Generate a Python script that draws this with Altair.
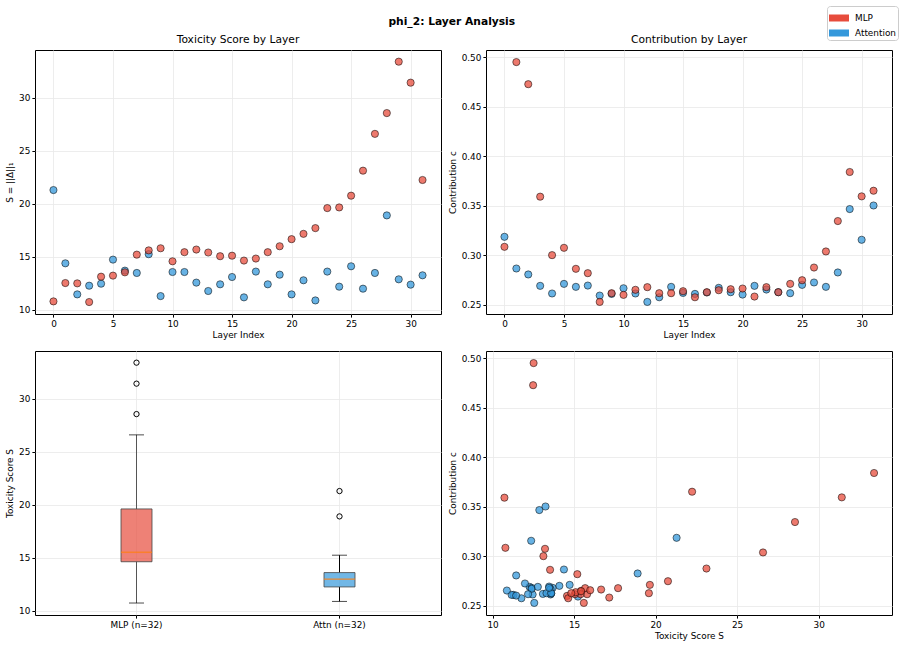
import altair as alt
import pandas as pd
import numpy as np

layers = list(range(32))
mlp_S = [10.79, 12.52, 12.49, 10.73, 13.12, 13.22, 13.53, 15.20, 15.60, 15.80,
         14.57, 15.43, 15.68, 15.40, 15.05, 15.10, 14.64, 14.83, 15.43, 15.99,
         16.66, 17.16, 17.70, 19.59, 19.65, 20.76, 23.12, 26.59, 28.55, 33.40,
         31.42, 22.24]
attn_S = [21.29, 14.38, 11.45, 12.27, 12.46, 14.73, 13.69, 13.47, 15.24, 11.29,
          13.56, 13.56, 12.56, 11.77, 12.40, 13.09, 11.17, 13.60, 12.40, 13.31,
          11.45, 12.78, 10.88, 13.60, 12.18, 14.10, 11.99, 13.47, 18.90, 12.87,
          12.37, 13.25]
mlp_c = [0.3086, 0.4950, 0.4727, 0.3592, 0.3002, 0.3076, 0.2864, 0.2820, 0.2530, 0.2618,
         0.2601, 0.2652, 0.2679, 0.2618, 0.2618, 0.2638, 0.2577, 0.2628, 0.2648, 0.2658,
         0.2665, 0.2584, 0.2679, 0.2628, 0.2712, 0.2749, 0.2877, 0.3039, 0.3346, 0.3841,
         0.3595, 0.3652]
attn_c = [0.3187, 0.2867, 0.2807, 0.2692, 0.2615, 0.2712, 0.2682, 0.2695, 0.2594, 0.2611,
          0.2668, 0.2615, 0.2530, 0.2577, 0.2682, 0.2621, 0.2611, 0.2625, 0.2672, 0.2628,
          0.2604, 0.2692, 0.2655, 0.2628, 0.2618, 0.2702, 0.2726, 0.2682, 0.2827, 0.3467,
          0.3157, 0.3503]

components = ["MLP", "Attention"]
colors = ["#e74c3c", "#3498db"]
box_labels = ["MLP (n=32)", "Attn (n=32)"]
whisker_colors = ["#555555", "black"]

FONT = "DejaVu Sans"
W, H = 406, 264

# scatter data (attention first so MLP draws on top)
df = pd.DataFrame({
    "layer": layers + layers,
    "S": attn_S + mlp_S,
    "c": attn_c + mlp_c,
    "comp": ["Attention"] * 32 + ["MLP"] * 32,
})

color_scale = alt.Scale(domain=components, range=colors)
legend = alt.Legend(
    title=None, orient="none", legendX=792, legendY=-44,
    symbolType="M-1,-0.35L1,-0.35L1,0.35L-1,0.35Z", symbolSize=400,
    symbolOpacity=1, symbolStrokeWidth=0,
    labelFont=FONT, labelFontSize=8.9, labelColor="black",
    fillColor="white", strokeColor="#cccccc", cornerRadius=3,
    padding=2, rowPadding=0, symbolOffset=0, labelOffset=6,
)

S_scale = alt.Scale(domain=[9.6, 34.5], nice=False, zero=False)
c_scale = alt.Scale(domain=[0.2408, 0.5072], nice=False, zero=False)
L_scale = alt.Scale(domain=[-1.55, 32.55], nice=False, zero=False)

S_ticks = [10, 15, 20, 25, 30]
c_ticks = [0.25, 0.30, 0.35, 0.40, 0.45, 0.50]
L_ticks = [0, 5, 10, 15, 20, 25, 30]


def pts(xfield, yfield, xs, ys, xtitle, ytitle, xvals, yvals, yfmt, title, leg):
    return alt.Chart(df).mark_circle(
        size=52, opacity=1, fillOpacity=0.75, stroke="black",
        strokeWidth=0.7, strokeOpacity=0.75
    ).encode(
        x=alt.X(f"{xfield}:Q", scale=xs, axis=alt.Axis(values=xvals, title=xtitle)),
        y=alt.Y(f"{yfield}:Q", scale=ys, axis=alt.Axis(values=yvals, title=ytitle, format=yfmt)),
        color=alt.Color("comp:N", scale=color_scale, legend=leg),
    ).properties(width=W, height=H, title=title)


p1 = pts("layer", "S", L_scale, S_scale, "Layer Index", "S = ||Δ||₁",
         L_ticks, S_ticks, "d", "Toxicity Score by Layer", legend)
p2 = pts("layer", "c", L_scale, c_scale, "Layer Index", "Contribution c",
         L_ticks, c_ticks, ".2f", "Contribution by Layer", None)
p4 = pts("S", "c", S_scale, c_scale, "Toxicity Score S", "Contribution c",
         S_ticks, c_ticks, ".2f", "", None)

# box plot statistics (matplotlib style, whis=1.5)
rows, outs = [], []
for lab, comp, vals, wc in zip(box_labels, components, [mlp_S, attn_S], whisker_colors):
    a = np.array(vals)
    q1, med, q3 = np.percentile(a, [25, 50, 75])
    iqr = q3 - q1
    lo_f, hi_f = q1 - 1.5 * iqr, q3 + 1.5 * iqr
    lo = a[a >= lo_f].min()
    hi = a[a <= hi_f].max()
    rows.append(dict(label=lab, comp=comp, q1=q1, med=med, q3=q3, lo=lo, hi=hi, wc=wc))
    for v in a[(a < lo_f) | (a > hi_f)]:
        outs.append(dict(label=lab, v=float(v)))
box_df = pd.DataFrame(rows)
out_df = pd.DataFrame(outs)

bx = alt.X("label:N", scale=alt.Scale(domain=box_labels, paddingInner=0.5, paddingOuter=0.25),
           axis=alt.Axis(title=None, labelAngle=0, grid=True))
by_axis = alt.Axis(values=S_ticks, title="Toxicity Score S")

base = alt.Chart(box_df)
wh_lo = base.mark_rule(strokeWidth=1).encode(
    x=bx, y=alt.Y("lo:Q", scale=S_scale, axis=by_axis), y2="q1:Q",
    color=alt.Color("wc:N", scale=None))
wh_hi = base.mark_rule(strokeWidth=1).encode(
    x=bx, y=alt.Y("q3:Q", scale=S_scale, axis=by_axis), y2="hi:Q",
    color=alt.Color("wc:N", scale=None))
box = base.mark_bar(size=31, fillOpacity=0.7, stroke="#444444", strokeWidth=1,
                    strokeOpacity=0.8).encode(
    x=bx, y=alt.Y("q1:Q", scale=S_scale, axis=by_axis), y2="q3:Q",
    color=alt.Color("comp:N", scale=color_scale, legend=None))
median = base.mark_tick(color="#ff7f0e", thickness=1.5, size=31).encode(
    x=bx, y=alt.Y("med:Q", scale=S_scale, axis=by_axis))
cap_lo = base.mark_tick(color="black", thickness=1, size=15).encode(
    x=bx, y=alt.Y("lo:Q", scale=S_scale, axis=by_axis))
cap_hi = base.mark_tick(color="black", thickness=1, size=15).encode(
    x=bx, y=alt.Y("hi:Q", scale=S_scale, axis=by_axis))
outl = alt.Chart(out_df).mark_point(shape="circle", filled=False, color="black",
                                     size=28, strokeWidth=1, opacity=1).encode(
    x=bx, y=alt.Y("v:Q", scale=S_scale, axis=by_axis))

p3 = alt.layer(wh_lo, wh_hi, box, median, cap_lo, cap_hi, outl).properties(width=W, height=H)

chart = alt.vconcat(
    alt.hconcat(p1, p2, spacing=5),
    alt.hconcat(p3, p4, spacing=5),
    spacing=10,
).properties(
    title=alt.TitleParams("phi_2: Layer Analysis", font=FONT, fontSize=10.7,
                          fontWeight="bold", anchor="middle", color="black", offset=-22),
    padding={"left": 5, "top": 5, "right": 2, "bottom": 3},
).configure_view(
    stroke="black", strokeWidth=1
).configure_axis(
    labelFont=FONT, titleFont=FONT, labelFontSize=8.9, titleFontSize=8.9,
    labelColor="black", titleColor="black", titleFontWeight="normal",
    gridColor="#e8e8e8", gridWidth=0.8, domain=False,
    tickColor="black", tickSize=3.1, labelPadding=2,
).configure_axisY(titlePadding=4).configure_axisX(titlePadding=2).configure_title(
    font=FONT, fontSize=10.7, fontWeight="normal", color="black", offset=4
)

chart.save("out.html", embed_options={"renderer": "svg", "actions": False})
